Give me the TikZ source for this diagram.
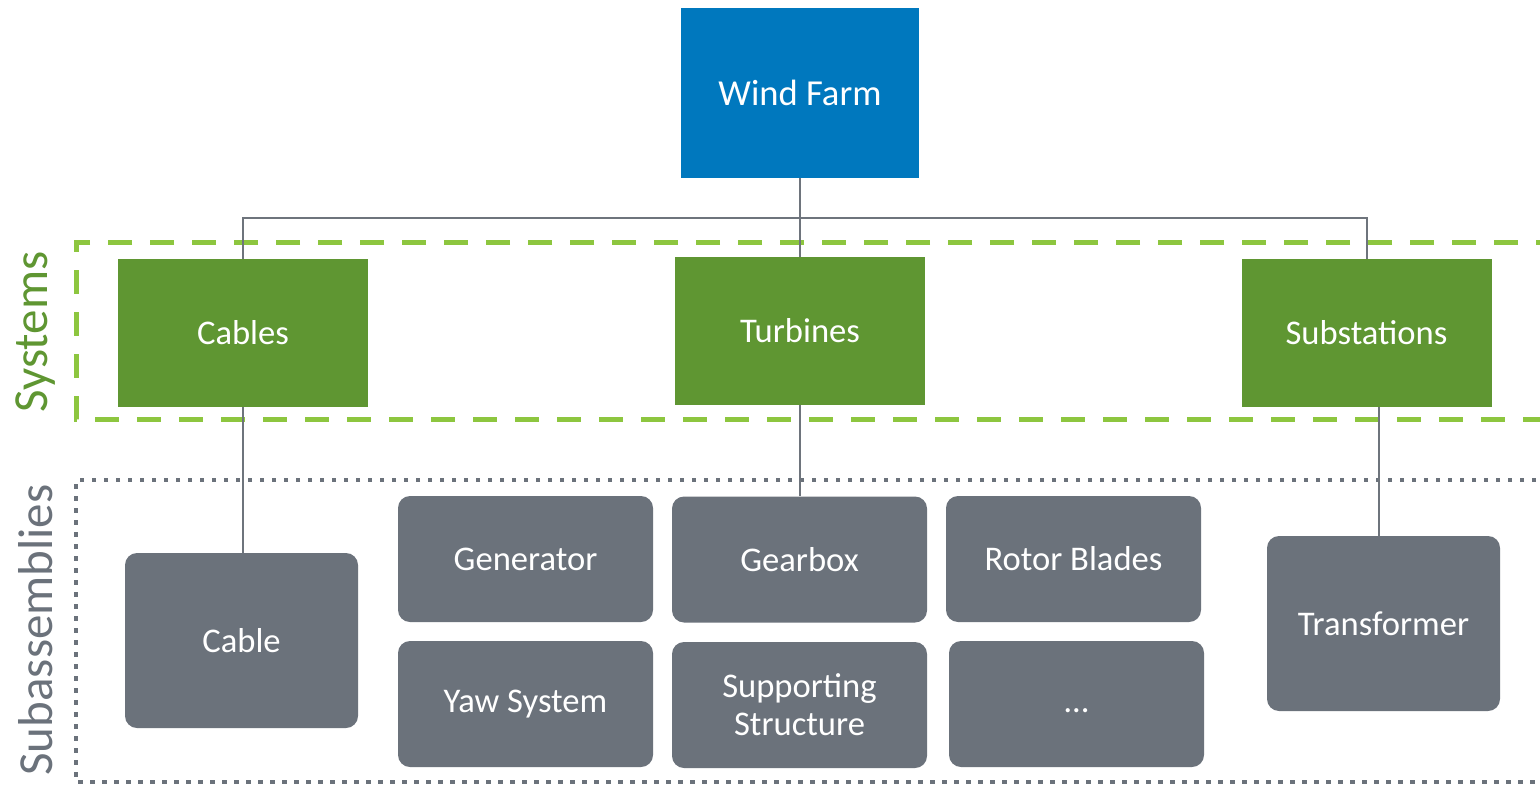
\documentclass[tikz,border=0pt]{standalone}
\usepackage{fontspec}
\setmainfont{Carlito}
\pgfdeclarelayer{background}
\pgfsetlayers{background,main}
\definecolor{wfblue}{HTML}{0078BE}
\definecolor{sysgreen}{HTML}{5F9632}
\definecolor{dashgreen}{HTML}{8DC63F}
\definecolor{subgray}{HTML}{6B727B}
\definecolor{linegray}{HTML}{6E747C}
\begin{document}
\begin{tikzpicture}[x=0.5pt,y=-0.5pt,
  topbox/.style={rectangle,fill=wfblue,text=white,inner sep=0pt,font=\fontsize{18.3}{22}\selectfont},
  sysbox/.style={rectangle,fill=sysgreen,text=white,inner sep=0pt,minimum width=125pt,minimum height=74pt,font=\fontsize{17.3}{19}\selectfont},
  subbox/.style={rectangle,rounded corners=6pt,fill=subgray,text=white,inner sep=0pt,align=center,font=\fontsize{17.3}{19}\selectfont},
  smallsub/.style={subbox,minimum width=127.5pt,minimum height=63pt},
  bigsub/.style={subbox,minimum width=116.5pt,minimum height=87.5pt},
  conn/.style={draw=linegray,line width=1pt},
  sideLabel/.style={rotate=90,font=\fontsize{24.5}{28}\selectfont}]
\useasboundingbox (0,0) rectangle (1540,786);
\node[sideLabel,text=sysgreen] (lsys) at (36,332) {Systems};
\node[sideLabel,text=subgray] (lsub) at (36,630) {Subassemblies};
% nodes
\node[topbox,minimum width=119pt,minimum height=85pt] (wf) at (800,93) {Wind Farm};
\node[sysbox] (cab) at (243,333) {Cables};
\node[sysbox] (tur) at (800,331) {Turbines};
\node[sysbox] (sub) at (1366.5,333) {Substations};
\node[bigsub] (cable) at (241.5,640.5) {Cable};
\node[smallsub] (gen) at (525.5,559) {Generator};
\node[smallsub] (gear) at (799.5,559.5) {Gearbox};
\node[smallsub] (rot) at (1073.5,559) {Rotor Blades};
\node[smallsub] (yaw) at (525.5,704) {Yaw System};
\node[smallsub] (supp) at (799.5,705) {Supporting\\Structure};
\node[smallsub] (dots) at (1076.5,704) {\vphantom{Ag}\dots};
\node[bigsub] (trans) at (1383.5,623.5) {Transformer};
\coordinate (bus) at (800,218);
\begin{pgfonlayer}{background}
% frames
\draw[dashgreen,line width=2.5pt,dash pattern=on 12pt off 9pt] (1560,242) -- (76,242) -- (76,419) -- (1560,419);
\draw[subgray,line width=2.25pt,dash pattern=on 2.25pt off 3.75pt] (1560,480) -- (76,480) -- (76,782) -- (1560,782);
% connectors
\draw[conn] (wf.south) -- (tur.north);
\draw[conn] (cab.north) |- (bus) -| (sub.north);
\draw[conn] (cab.south) -- (cab.south |- cable.north);
\draw[conn] (tur.south) -- (tur.south |- gear.north);
\draw[conn] ([xshift=6.25pt]sub.south) -- ([xshift=6.25pt]sub.south |- trans.north);
\end{pgfonlayer}
\end{tikzpicture}
\end{document}
